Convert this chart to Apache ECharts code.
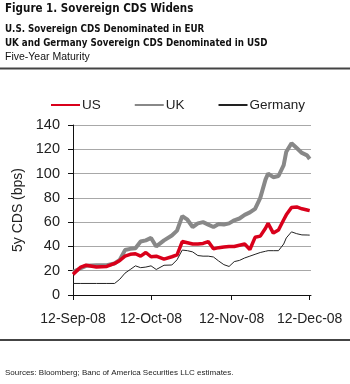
<!DOCTYPE html>
<html>
<head>
<meta charset="utf-8">
<script src="https://cdn.jsdelivr.net/npm/echarts@6/dist/echarts.min.js"></script>
<style>
html,body{margin:0;padding:0;background:#fff;}
#c{width:350px;height:384px;}
</style>
</head>
<body>
<div id="c"></div>
<script>
// Dates (2008) and values
const dates = ['2008-09-12','2008-09-15','2008-09-17','2008-09-21','2008-09-25','2008-09-28','2008-09-30',
  '2008-10-02','2008-10-04','2008-10-06','2008-10-08','2008-10-10','2008-10-12','2008-10-14','2008-10-17',
  '2008-10-20','2008-10-22','2008-10-24','2008-10-26','2008-10-28','2008-10-30','2008-11-01','2008-11-03',
  '2008-11-05','2008-11-07','2008-11-09','2008-11-11','2008-11-13','2008-11-15','2008-11-17','2008-11-19',
  '2008-11-21','2008-11-23','2008-11-25','2008-11-26','2008-11-28','2008-11-30','2008-12-02','2008-12-03',
  '2008-12-05','2008-12-07','2008-12-09','2008-12-11','2008-12-12'];
const uk = [19,22,24,24.5,24.5,26,29,37,38,38.5,44,45,47,40,45,49,53,65,62,56,59,60,58,56,58.5,58,59,61.5,63,66,68,71,80,95,100,97,98,107,118,125,121,117,115,112];
const us = [17,23,24.5,23,23.5,26,28.5,32,33.5,34,32,35,31.5,32,29.5,31.5,33,44,43,42,42,42.5,44,38,39,39.5,40,40,41,42,37.5,47.5,48.5,55,59,51,53.5,62,66,72,72.5,71,70,69.5];
const germany = [9.5,9.5,9.5,9.5,9.5,9.5,13,18,21,24,22.5,23,24,21,24.5,24.7,29,37,36.5,35.5,32.5,32,32,31.3,28,25,23.5,27.5,28.5,30.5,32,33.5,35,36,36.5,36.5,36.5,42,47,52,50.5,49.5,49.4,49.3];
const tickDates = ['2008-09-12','2008-10-12','2008-11-12','2008-12-12'];
const yTicks = [0,20,40,60,80,100,120,140];
const seriesNames = ['US','UK','Germany'];

const months = ['Jan','Feb','Mar','Apr','May','Jun','Jul','Aug','Sep','Oct','Nov','Dec'];
const DAY = 86400000;
function parseD(s){const p=s.split('-');return Date.UTC(+p[0],+p[1]-1,+p[2]);}
const t0 = parseD(dates[0]);
function dayOf(s){return Math.round((parseD(s)-t0)/DAY);}
function pair(vals){return dates.map((d,i)=>[dayOf(d),vals[i]]);}
const tickVals = tickDates.map(dayOf);
function fmt(v){const d=new Date(t0+v*DAY);return d.getUTCDate()+'-'+months[d.getUTCMonth()]+'-'+String(d.getUTCFullYear()).slice(2);}

const chart = echarts.init(document.getElementById('c'));
const titleFont = "'DejaVu Sans Condensed','Liberation Sans Narrow',sans-serif";
const axFont = "'Liberation Sans',Arial,sans-serif";
chart.setOption({
  animation:false,
  title:[
    {text:'Figure 1. Sovereign CDS Widens',left:5,top:3,padding:0,textStyle:{fontFamily:titleFont,fontWeight:'bold',fontSize:11.5,color:'#111'}},
    {text:'U.S. Sovereign CDS Denominated in EUR',left:5,top:24,padding:0,textStyle:{fontFamily:titleFont,fontWeight:'bold',fontSize:9.7,color:'#111'}},
    {text:'UK and Germany Sovereign CDS Denominated in USD',left:5,top:38,padding:0,textStyle:{fontFamily:titleFont,fontWeight:'bold',fontSize:9.7,color:'#111'}},
    {text:'Five-Year Maturity',left:5,top:52,padding:0,textStyle:{fontFamily:axFont,fontWeight:'normal',fontSize:10.5,color:'#111'}},
    {text:'Sources: Bloomberg; Banc of America Securities LLC estimates.',left:5,top:369,padding:0,textStyle:{fontFamily:"'Liberation Sans Narrow',sans-serif",fontWeight:'normal',fontSize:8,color:'#222'}}
  ],
  graphic:[
    {type:'line',shape:{x1:0,y1:68.5,x2:350,y2:68.5},style:{stroke:'#444',lineWidth:2}},
    {type:'line',shape:{x1:0,y1:340,x2:350,y2:340},style:{stroke:'#444',lineWidth:2}}
  ],
  legend:{
    data:seriesNames,left:45,top:93,itemWidth:29,itemHeight:10,itemGap:33,
    itemStyle:{opacity:0},
    textStyle:{fontFamily:axFont,fontSize:13.5,color:'#222',padding:[0,0,0,-3]}
  },
  grid:{left:73,right:39,top:125,bottom:89,containLabel:false},
  xAxis:{
    type:'value',min:tickVals[0],max:tickVals[3]+0.5,
    axisLine:{lineStyle:{color:'#111',width:1}},
    axisTick:{show:true,customValues:tickVals,length:5,lineStyle:{color:'#111'}},
    axisLabel:{customValues:tickVals,margin:17,fontFamily:axFont,fontSize:14,color:'#222',formatter:fmt},
    splitLine:{show:false}
  },
  yAxis:{
    type:'value',min:yTicks[0],max:yTicks[yTicks.length-1],interval:20,
    name:'5y CDS (bps)',nameLocation:'middle',nameGap:44,
    nameTextStyle:{fontFamily:axFont,fontSize:14,color:'#222'},
    axisLine:{show:true,lineStyle:{color:'#111',width:1}},
    axisTick:{show:true,length:5,lineStyle:{color:'#111'}},
    axisLabel:{margin:13,fontFamily:axFont,fontSize:14.5,color:'#222'},
    splitLine:{show:true,lineStyle:{color:'#a8a8a8',width:1.2}}
  },
  series:[
    {name:'US',type:'line',data:pair(us),symbol:'none',z:4,lineStyle:{color:'#d9001b',width:3.5},itemStyle:{color:'#d9001b'}},
    {name:'UK',type:'line',data:pair(uk),symbol:'none',z:3,lineStyle:{color:'#888',width:4},itemStyle:{color:'#888'}},
    {name:'Germany',type:'line',data:pair(germany),symbol:'none',z:5,lineStyle:{color:'#222',width:1},itemStyle:{color:'#222'}}
  ]
});
</script>
</body>
</html>
